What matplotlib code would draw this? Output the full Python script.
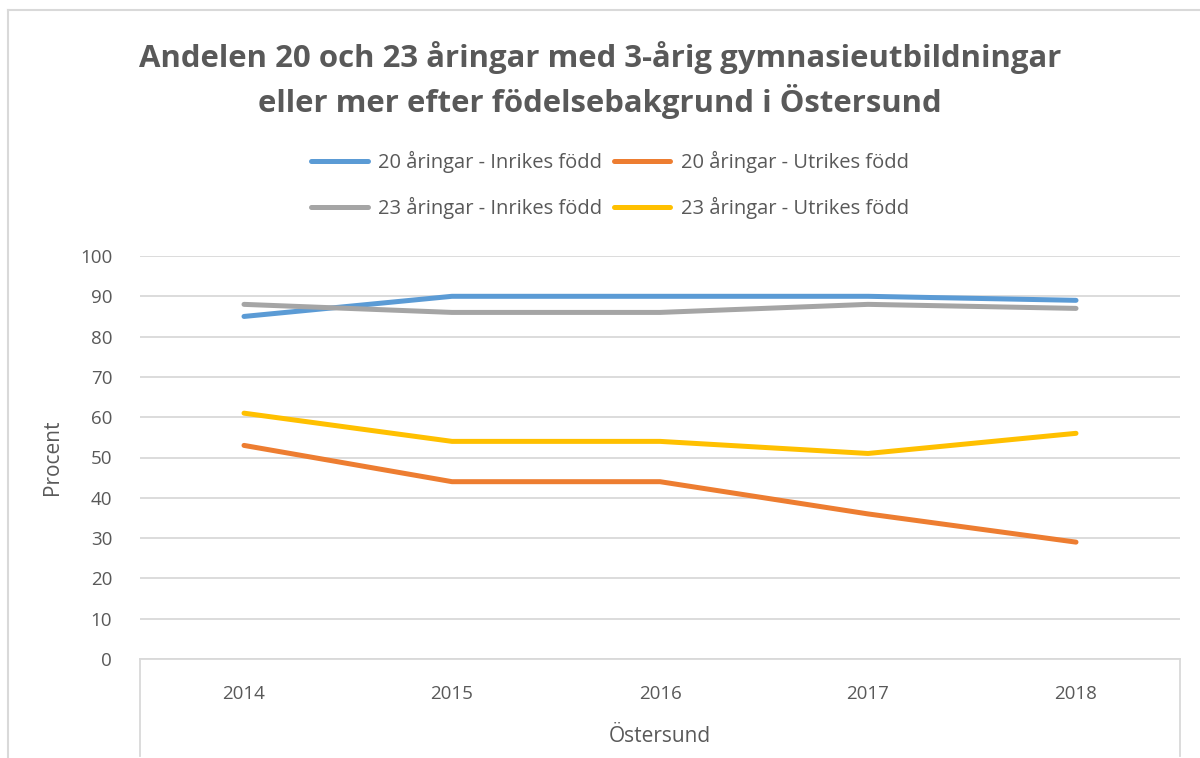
import matplotlib.pyplot as plt
from matplotlib.lines import Line2D

plt.rcParams['font.family'] = ['Open Sans', 'DejaVu Sans']

years = ['2014', '2015', '2016', '2017', '2018']
inrikes_20 = [85, 90, 90, 90, 89]
utrikes_20 = [53, 44, 44, 36, 29]
inrikes_23 = [88, 86, 86, 88, 87]
utrikes_23 = [61, 54, 54, 51, 56]

labels = ['20 åringar - Inrikes född', '23 åringar - Inrikes född',
          '20 åringar - Utrikes född', '23 åringar - Utrikes född']
colors = ['#5B9BD5', '#A5A5A5', '#ED7D31', '#FFC000']
series = [inrikes_20, inrikes_23, utrikes_20, utrikes_23]

txt = '#595959'
grid = '#D9D9D9'

fig = plt.figure(figsize=(12, 7.58), dpi=100)
ax = fig.add_axes([140 / 1200, 1 - 659 / 758, 1040 / 1200, 403 / 758])

x = range(len(years))
handles = []
for lab, col, vals in zip(labels, colors, series):
    h, = ax.plot(x, vals, color=col, lw=3.6, solid_capstyle='round',
                 solid_joinstyle='round', label=lab)
    handles.append(h)

ax.set_xlim(-0.5, len(years) - 0.5)
ax.set_ylim(0, 100)
ax.set_yticks(range(0, 101, 10))
ax.set_xticks(list(x))
ax.set_xticklabels(years)
ax.yaxis.grid(True, color=grid, lw=1.3)
ax.set_axisbelow(True)
for s in ['top', 'right', 'left']:
    ax.spines[s].set_visible(False)
ax.spines['bottom'].set_color(grid)
ax.spines['bottom'].set_linewidth(1.3)
ax.tick_params(length=0, colors=txt, labelsize=13.5)
ax.tick_params(axis='x', pad=19)
ax.tick_params(axis='y', pad=20)

# multi-level category box lines
for xx in [0, 1]:
    ax.plot([xx, xx], [0, -0.24], transform=ax.transAxes, color=grid,
            lw=1.3, clip_on=False)

ax.set_ylabel('Procent', color=txt, fontsize=15, labelpad=12)
fig.text(660 / 1200, 1 - 737 / 758, 'Östersund', color=txt, fontsize=15,
         ha='center', va='center')

fig.text(0.5, 1 - 80 / 758,
         'Andelen 20 och 23 åringar med 3-årig gymnasieutbildningar\n'
         'eller mer efter födelsebakgrund i Östersund',
         ha='center', va='center', fontsize=22.4, fontweight='bold',
         color=txt, linespacing=1.35)

fig.legend(handles=handles, loc='center', ncol=2,
           bbox_to_anchor=(610 / 1200, 1 - 185 / 758), frameon=False,
           fontsize=14.5, labelcolor=txt, handlelength=2.8,
           columnspacing=0.6, handletextpad=0.5, labelspacing=1.15)

# chart border
fig.add_artist(Line2D([8 / 1200, 1], [1 - 10 / 758] * 2, color=grid, lw=1.5,
                      transform=fig.transFigure))
fig.add_artist(Line2D([8 / 1200] * 2, [0, 1 - 10 / 758], color=grid, lw=1.5,
                      transform=fig.transFigure))

fig.savefig('out.png', dpi=100)
